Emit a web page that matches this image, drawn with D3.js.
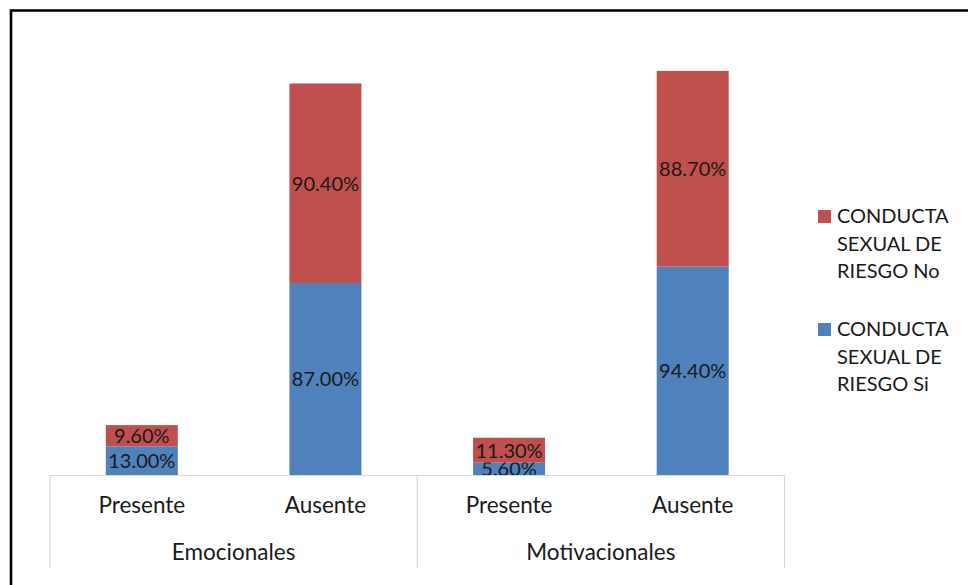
<!DOCTYPE html>
<html><head><meta charset="utf-8">
<script src="https://cdn.jsdelivr.net/npm/d3@7"></script>
<style>html,body{margin:0;padding:0;background:#fff}svg{display:block}</style>
</head><body>
<svg id="c" width="968" height="585"></svg>
<script>
const groups = ["Emocionales", "Motivacionales"];
const subcats = ["Presente", "Ausente"];
const seriesNames = ["CONDUCTA SEXUAL DE RIESGO Si", "CONDUCTA SEXUAL DE RIESGO No"];
const legendLines = [["CONDUCTA", "SEXUAL DE", "RIESGO No"], ["CONDUCTA", "SEXUAL DE", "RIESGO Si"]];
const valuesSi = [13.0, 87.0, 5.6, 94.4];
const valuesNo = [9.6, 90.4, 11.3, 88.7];
const colors = ["#4f81bd", "#c0504d"];

const rows = [];
groups.forEach((g, gi) => subcats.forEach((s, si) => {
  const i = gi * subcats.length + si;
  rows.push({key: g + "|" + s, group: g, sub: s, Si: valuesSi[i], No: valuesNo[i]});
}));

const svg = d3.select("#c");
const font = "Lato, 'Open Sans', sans-serif";
const textColor = "#1a1a1a";

// frame
svg.append("path").attr("d", "M11,585 V10.5 H968").attr("fill", "none")
  .attr("stroke", "#000").attr("stroke-width", 2.6);

const x0 = 50, x1 = 784.5, base = 475, axisBottom = 568;
const x = d3.scaleBand().domain(rows.map(d => d.key)).range([x0, x1])
  .paddingInner(0.608).paddingOuter(0.304);
const y = d3.scaleLinear().domain([0, 200]).range([base, base - 441.4]);

const stack = d3.stack().keys(["Si", "No"])(rows);

const g = svg.append("g");
stack.forEach((layer, li) => {
  g.selectAll(null).data(layer).enter().append("rect")
    .attr("x", d => x(d.data.key)).attr("width", x.bandwidth())
    .attr("y", d => y(d[1])).attr("height", d => y(d[0]) - y(d[1]))
    .attr("fill", colors[li]);
  g.selectAll(null).data(layer).enter().append("text")
    .attr("x", d => x(d.data.key) + x.bandwidth() / 2)
    .attr("y", d => (y(d[0]) + y(d[1])) / 2 + 7.5)
    .attr("text-anchor", "middle").attr("font-family", font).attr("font-size", 20)
    .attr("fill", textColor)
    .text(d => d.data[li === 0 ? "Si" : "No"].toFixed(2) + "%");
});

// category axis table
const grid = svg.append("g").attr("stroke", "#d9d9d9").attr("stroke-width", 1.2);
grid.append("line").attr("x1", x0).attr("x2", x1).attr("y1", base + 0.5).attr("y2", base + 0.5);
const step = x.step();
const groupEdges = [x0];
groups.forEach((gname, gi) => groupEdges.push(x0 + (gi + 1) * subcats.length * step));
groupEdges.forEach(e => grid.append("line").attr("x1", e).attr("x2", e).attr("y1", base).attr("y2", axisBottom));

svg.append("g").selectAll("text").data(rows).enter().append("text")
  .attr("x", d => x(d.key) + x.bandwidth() / 2).attr("y", 513)
  .attr("text-anchor", "middle").attr("font-family", font).attr("font-size", 22.5)
  .attr("fill", textColor).text(d => d.sub);

svg.append("g").selectAll("text").data(groups).enter().append("text")
  .attr("x", (d, i) => (groupEdges[i] + groupEdges[i + 1]) / 2).attr("y", 560)
  .attr("text-anchor", "middle").attr("font-family", font).attr("font-size", 22.5)
  .attr("fill", textColor).text(d => d);

// legend (No first, then Si)
const legendOrder = [1, 0];
const lg = svg.append("g");
legendOrder.forEach((si, k) => {
  const top = 210 + k * 113;
  lg.append("rect").attr("x", 818).attr("y", top).attr("width", 13).attr("height", 13)
    .attr("fill", colors[si]);
  legendLines[k].forEach((ln, j) => {
    lg.append("text").attr("x", 837).attr("y", top + 13 + j * 27.5)
      .attr("font-family", font).attr("font-size", 20).attr("fill", textColor).text(ln);
  });
});
</script>
</body></html>
